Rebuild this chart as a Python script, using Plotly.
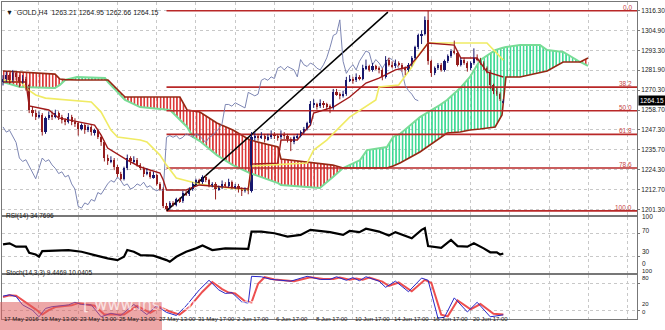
import plotly.graph_objects as go
import numpy as np

# ---------------- DATA ----------------
opens = [1275,1277,1279,1276,1280,1278,1275,1277,1273,1259,1257,1255,1256,1246,1254,1256,1255,1257,1255,1253,
         1252,1255,1252,1251,1248,1250,1247,1249,1246,1247,1243,1240,1231,1229,1230,1226,1222,1219,1225,1231,
         1229,1230,1227,1225,1222,1223,1220,1221,1216,1213,1203,1202,1205,1204,1207,1206,1211,1210,1213,1216,
         1218,1217,1220,1218,1215,1216,1213,1214,1216,1215,1217,1214,1215,1213,1212,1213,1212,1243,1244,1243,
         1244,1242,1243,1245,1244,1243,1245,1244,1242,1240,1243,1244,1246,1248,1251,1262,1262,1261,1263,1262,
         1261,1260,1269,1268,1267,1268,1276,1277,1276,1278,1277,1283,1284,1282,1284,1283,1282,1278,1288,1285,
         1284,1286,1285,1283,1282,1285,1289,1295,1302,1303,1311,1287,1280,1283,1285,1282,1287,1290,1293,1292,
         1285,1288,1286,1283,1286,1289,1288,1286,1283,1281,1273,1270,1268,1263.21]
highs = [1279,1281,1280,1282,1281,1279,1279,1278,1274,1261,1259,1258,1257,1255,1258,1258,1259,1258,1256,1254,
         1257,1256,1254,1252,1251,1251,1250,1250,1248,1248,1244,1241,1233,1232,1231,1227,1223,1226,1233,1232,
         1232,1231,1228,1226,1225,1224,1223,1222,1217,1214,1205,1206,1206,1208,1208,1212,1212,1214,1217,1219,
         1219,1221,1221,1219,1217,1217,1215,1218,1217,1219,1218,1216,1216,1214,1214,1214,1246,1246,1245,1246,
         1245,1245,1247,1246,1245,1247,1246,1245,1243,1244,1245,1247,1249,1252,1264,1265,1263,1265,1264,1263,
         1262,1271,1271,1269,1270,1278,1279,1278,1280,1279,1285,1288,1285,1286,1285,1284,1283,1290,1289,1287,
         1288,1287,1286,1284,1286,1290,1296,1303,1305,1313,1316.3,1288,1284,1286,1286,1288,1291,1294,1299,1293,
         1289,1289,1287,1287,1294.5,1291,1289,1287,1284,1282,1274,1272,1269,1264.95]
lows = [1273,1275,1274,1275,1276,1272,1274,1270,1257,1255,1253,1254,1244,1245,1253,1253,1254,1253,1251,1250,
        1251,1250,1249,1244,1247,1245,1246,1244,1244,1242,1238,1229,1227,1228,1224,1220,1218,1218,1224,1227,
        1228,1226,1224,1220,1221,1219,1219,1215,1212,1202,1200.4,1201,1203,1203,1205,1205,1209,1209,1212,1215,
        1216,1216,1217,1214,1214,1207,1212,1213,1214,1214,1213,1213,1211,1209,1211,1210,1211,1241,1241,1242,
        1240,1241,1242,1242,1241,1242,1242,1240,1235,1239,1242,1243,1245,1247,1250,1260,1259,1260,1260,1259,
        1257,1259,1267,1265,1266,1267,1275,1274,1275,1276,1276,1282,1281,1281,1282,1280,1276,1277,1284,1283,
        1283,1284,1281,1279,1281,1284,1288,1294,1297,1302,1285,1278,1279,1282,1281,1281,1286,1289,1291,1284,
        1284,1285,1281,1282,1285,1287,1285,1282,1280,1271,1268,1267,1264,1262.66]
closes = [1277,1279,1276,1280,1278,1275,1277,1273,1259,1257,1255,1256,1246,1254,1256,1255,1257,1255,1253,1252,
          1255,1252,1251,1248,1250,1247,1249,1246,1247,1243,1240,1231,1229,1230,1226,1222,1219,1225,1231,1229,
          1230,1227,1225,1222,1223,1220,1221,1216,1213,1203,1202,1205,1204,1207,1206,1211,1210,1213,1216,1218,
          1217,1220,1218,1215,1216,1213,1214,1216,1215,1217,1214,1215,1213,1212,1213,1212,1243,1244,1243,1244,
          1242,1243,1245,1244,1243,1245,1244,1242,1240,1243,1244,1246,1248,1251,1262,1262,1261,1263,1262,1261,
          1260,1269,1268,1267,1268,1276,1277,1276,1278,1277,1283,1284,1282,1284,1283,1282,1278,1288,1285,1284,
          1286,1285,1283,1282,1285,1289,1295,1302,1303,1311,1287,1280,1283,1285,1282,1287,1290,1293,1292,1285,
          1288,1286,1283,1286,1289,1288,1286,1283,1281,1273,1270,1268,1265,1264.15]

tenkan_x = [0,7,8,11,14,17,23,28,30,32,38,42,48,49,50,56,60,75,76,84,85,90,91,94,95,101,106,111,115,120,
            124,127,130,138,140,145,148,151,153]
tenkan_y = [1275.0,1275.0,1261.1,1260.0,1258.8,1254.2,1251.8,1250.1,1244.3,1236.8,1229.8,1225.8,1222.3,1218.3,
            1212.5,1212.5,1215.4,1213.1,1227.5,1228.0,1241.4,1241.4,1244.0,1250.1,1257.0,1260.5,1266.3,1274.4,
            1277.3,1282.0,1283.7,1290.0,1297.6,1296.4,1288.9,1288.9,1280.8,1279.1,1277.9]

kijun_x = [0,6,7,10,13,20,27,30,33,35,42,44,48,50,53,60,66,75,76,93,95,99,106,114,115,121,125,127,130,148,153]
kijun_y = [1276.2,1274.4,1271.5,1267.5,1265.7,1264.6,1263.4,1257.6,1247.2,1243.2,1241.4,1240.3,1232.7,1226.9,
           1219.4,1215.9,1214.2,1212.5,1226.4,1228.1,1235.6,1241.4,1254.7,1264.6,1272.1,1273.3,1283.7,1290.6,
           1297.6,1297.6,1287.7]

span_x = [0,5.2,15.9,17.4,19,22.6,31.2,32.1,37.3,41.9,51.1,54.1,56.3,58.1,60.2,65.4,70.3,75.5,84.1,85,96.9,
          100.9,104,109.2,111.3,117.4,119.3,121.4,127.5,133.6,135.8,139.8,142.8,145.9,150.5,152.6,153.8,158.1,
          164.2,166.4,171.3,176.5,178.9]
span_a = [1281.4,1280.8,1279.6,1276.7,1276.4,1276.2,1276.2,1276.2,1266.3,1266.3,1266.3,1266.3,1258.8,1258.2,
          1257.6,1251.3,1247.2,1241.4,1237.4,1230.4,1228.1,1226.9,1225.2,1225.2,1225.2,1225.2,1226.4,1228.1,
          1234.5,1242.6,1245.5,1246.1,1247.2,1247.8,1249.0,1255.9,1277.9,1277.9,1280.2,1281.4,1286.6,1286.6,1288.9]
span_b = [1275.0,1272.1,1271.5,1273.3,1276.2,1277.9,1277.3,1275.0,1264.6,1260.5,1258.8,1253.0,1249.0,1243.2,
          1240.8,1232.7,1226.9,1222.3,1216.5,1215.4,1213.6,1220.0,1225.2,1229.8,1235.6,1237.4,1243.2,1244.9,
          1254.7,1261.7,1264.6,1271.5,1277.9,1287.7,1293.5,1294.7,1295.3,1296.4,1296.4,1293.5,1292.4,1286.6,1284.3]

rsi_x = [0,2,4,7,8,10,11,12,20,24,28,32,35,37,38,40,42,46,50,51,53,56,59,61,64,68,75,76,79,83,87,91,94,98,
         100,104,106,109,111,115,118,120,124,125,128,129,130,131,134,137,139,142,144,147,149,151,152,153]
rsi_y = [51,53,47,47,36,33,29,39,41,38,32,26,23,29,41,38,32,31,23,20,29,38,44,49,41,44,43,74,74,71,65,68,77,74,
         73,68,75,73,79,74,67,73,65,62,77,80,48,47,45,59,48,47,53,44,37,37,33,34.77]

stk_x = [0,2,4,6,9,11,13,15,20,22,24,27,30,33,36,40,44,47,50,53,56,60,63,66,68,70,73,75,76,79,82,88,93,97,
         100,102,105,107,109,111,115,117,120,124,128,130,133,135,138,142,145,149,153]
stk_y = [52,55,51,32,20,5,24,28,32,38,33,32,5,13,8,33,10,30,15,8,30,66,88,66,58,60,39,36,97,96,90,86,97,90,
         90,96,88,94,87,96,86,72,86,62,93,88,2,4,48,16,38,5,9.45]
std_x = [0,2,4,7,10,12,14,16,21,23,25,28,31,34,37,41,45,48,51,54,57,61,64,67,69,71,74,76,78,80,83,89,94,98,
         101,103,106,108,110,112,116,118,121,125,129,131,134,136,139,143,146,150,153]
std_y = [50,54,53,38,22,10,20,27,31,36,34,30,10,10,10,30,14,27,17,10,27,62,84,68,60,58,40,38,80,95,90,86,95,91,
         91,94,89,92,89,94,85,75,83,63,89,82,10,6,42,22,34,12,10.04]

fib_levels = [0.0, 38.2, 50.0, 61.8, 78.6, 100.0]
fib_high = 1316.30
fib_low = 1200.40
fib_start = 50
trend_x = [50, 117.7]
trend_y = [1200.4, 1315.5]

price_ticks = [1316.30, 1304.90, 1293.30, 1281.90, 1270.30, 1258.70, 1247.30, 1235.70, 1224.30, 1212.70, 1201.30]
rsi_ticks = ["100", "70", "30", "0"]
stoch_ticks = ["100", "80", "20", "0"]
time_idx = [-0.3, 11, 23, 35, 47, 59, 71, 83, 95, 107, 119, 131, 143]
time_labels = ["17 May 2016", "19 May 13:00", "23 May 13:00", "25 May 13:00", "27 May 13:00", "31 May 17:00",
               "2 Jun 17:00", "6 Jun 17:00", "8 Jun 17:00", "10 Jun 17:00", "14 Jun 17:00", "16 Jun 17:00",
               "20 Jun 17:00"]
grid_idx = [11, 23, 35, 47, 59, 71, 83, 95, 107, 119, 131, 143, 155, 167, 179, 191]
header = "GOLD,H4  1263.21 1264.95 1262.66 1264.15"
last_price = 1264.15
rsi_label = "RSI(14) 34.7696"
stoch_label = "Stoch(14,3,3) 9.4469 10.0405"
chikou_shift = 26

# ---------------- GEOMETRY ----------------
W, H = 665, 330
def py(p):
    return 1 - p / H
XR = [-0.31, 193.88]
FONT = "Liberation Sans"
TXT = "#1a1a1a"

fig = go.Figure()
idx = list(range(len(closes)))

# Cloud fills (hatched)
sa = np.array(span_a); sb = np.array(span_b); top = np.maximum(sa, sb)
fig.add_trace(go.Scatter(x=span_x, y=sb, mode="lines", line=dict(width=0), hoverinfo="skip", showlegend=False))
fig.add_trace(go.Scatter(x=span_x, y=top, mode="lines", line=dict(width=0), fill="tonexty",
                         fillcolor="rgba(0,0,0,0)",
                         fillpattern=dict(shape="|", fgcolor="rgb(215,35,35)", bgcolor="rgba(255,255,255,0)",
                                          size=3.27, solidity=0.45, fillmode="replace"),
                         hoverinfo="skip", showlegend=False))
fig.add_trace(go.Scatter(x=span_x, y=sa, mode="lines", line=dict(width=0), hoverinfo="skip", showlegend=False))
fig.add_trace(go.Scatter(x=span_x, y=top, mode="lines", line=dict(width=0), fill="tonexty",
                         fillcolor="rgba(0,0,0,0)",
                         fillpattern=dict(shape="|", fgcolor="rgb(45,215,140)", bgcolor="rgba(255,255,255,0)",
                                          size=3.27, solidity=0.45, fillmode="replace"),
                         hoverinfo="skip", showlegend=False))
fig.add_trace(go.Scatter(x=span_x, y=span_b, mode="lines", line=dict(color="rgb(120,220,150)", width=2),
                         showlegend=False))
fig.add_trace(go.Scatter(x=span_x, y=span_a, mode="lines", line=dict(color="rgb(150,40,20)", width=1.6),
                         showlegend=False))

# Fibonacci lines
fr = fib_high - fib_low
for lv in fib_levels:
    p = fib_high - lv / 100 * fr
    fig.add_trace(go.Scatter(x=[fib_start, XR[1]], y=[p, p], mode="lines",
                             line=dict(color="rgb(185,40,40)", width=1.6), showlegend=False))
    fig.add_annotation(x=XR[1] - 0.8, y=p, xref="x", yref="y", text=f"{lv:.1f}", showarrow=False,
                       xanchor="right", yanchor="bottom", yshift=-2,
                       font=dict(family=FONT, size=6.5, color="rgb(200,70,70)"))

# trend line
fig.add_trace(go.Scatter(x=trend_x, y=trend_y, mode="lines", line=dict(color="black", width=1.5), showlegend=False))

# chikou
fig.add_trace(go.Scatter(x=[i - chikou_shift for i in idx[chikou_shift:]], y=closes[chikou_shift:], mode="lines",
                         line=dict(color="rgb(110,120,170)", width=0.9), showlegend=False))
# kijun / tenkan
fig.add_trace(go.Scatter(x=kijun_x, y=kijun_y, mode="lines", line=dict(color="rgb(240,235,100)", width=1.6),
                         showlegend=False))
fig.add_trace(go.Scatter(x=tenkan_x, y=tenkan_y, mode="lines", line=dict(color="rgb(160,25,25)", width=1.4),
                         showlegend=False))

# candles
bull = "rgb(25,25,110)"
bear = "rgb(150,30,30)"
cols = [bull if c >= o else bear for o, c in zip(opens, closes)]
for col in (bull, bear):
    wx, wy = [], []
    for i in idx:
        if cols[i] == col:
            wx += [i, i, None]; wy += [lows[i], highs[i], None]
    fig.add_trace(go.Scatter(x=wx, y=wy, mode="lines", line=dict(color=col, width=1), showlegend=False))
fig.add_trace(go.Bar(x=idx, y=[max(abs(c - o), 0.4) for o, c in zip(opens, closes)],
                     base=[min(o, c) for o, c in zip(opens, closes)], width=0.66,
                     marker=dict(color=cols, line=dict(width=0)), showlegend=False))

# RSI
fig.add_trace(go.Scatter(x=rsi_x, y=rsi_y, mode="lines", line=dict(color="black", width=2.2),
                         xaxis="x2", yaxis="y2", showlegend=False))
# Stoch
fig.add_trace(go.Scatter(x=std_x, y=std_y, mode="lines", line=dict(color="rgba(235,60,60,0.9)", width=2),
                         xaxis="x3", yaxis="y3", showlegend=False))
fig.add_trace(go.Scatter(x=stk_x, y=stk_y, mode="lines", line=dict(color="rgb(40,40,200)", width=1),
                         xaxis="x3", yaxis="y3", showlegend=False))

xd = [2 / W, 637 / W]
common_x = dict(range=XR, showgrid=True, gridcolor="rgb(200,200,200)", griddash="dot", gridwidth=1,
                tickvals=grid_idx, showticklabels=False, ticks="", showline=True, mirror=True,
                linecolor="#777", linewidth=1, zeroline=False, domain=xd, fixedrange=True)
common_y = dict(side="right", showgrid=True, gridcolor="rgb(200,200,200)", griddash="dot", gridwidth=1,
                showline=True, mirror=True, linecolor="#777", linewidth=1, zeroline=False,
                tickfont=dict(family=FONT, size=6.5, color=TXT), ticks="outside", ticklen=2,
                tickcolor="#777", fixedrange=True)

fig.update_layout(
    width=W, height=H, margin=dict(l=0, r=0, t=0, b=0),
    paper_bgcolor="white", plot_bgcolor="white", showlegend=False, bargap=0,
    xaxis=dict(**common_x, anchor="y"),
    xaxis2=dict(**common_x, anchor="y2", matches="x"),
    xaxis3=dict(**common_x, anchor="y3", matches="x"),
    yaxis=dict(**common_y, anchor="x", domain=[py(215), py(2)], range=[1198.0, 1321.34],
               tickvals=price_ticks, ticktext=[f"{v:.2f}" for v in price_ticks]),
    yaxis2=dict(**common_y, anchor="x2", domain=[py(273), py(217)], range=[0, 100],
                tickvals=[30, 70], showticklabels=False),
    yaxis3=dict(**common_y, anchor="x3", domain=[py(319), py(275)], range=[0, 100],
                tickvals=[20, 80], showticklabels=False),
)

# right labels for indicator windows
for txt, yp in zip(rsi_ticks, [221.5, 235.5, 256.5, 269.0]):
    fig.add_annotation(x=640 / W, y=py(yp), xref="paper", yref="paper", text=txt, showarrow=False,
                       xanchor="left", font=dict(family=FONT, size=6.5, color=TXT))
for txt, yp in zip(stoch_ticks, [276.3, 283.0, 308.5, 317.0]):
    fig.add_annotation(x=640 / W, y=py(yp), xref="paper", yref="paper", text=txt, showarrow=False,
                       xanchor="left", font=dict(family=FONT, size=6, color=TXT))

# last price box
fig.add_annotation(x=638 / W, y=last_price, xref="paper", yref="y", text=f"{last_price:.2f}", showarrow=False,
                   xanchor="left", bgcolor="black", font=dict(family=FONT, size=6.5, color="white"),
                   borderpad=1)

# header & indicator labels
fig.add_annotation(x=4 / W, y=py(7), xref="paper", yref="paper", text="▼  " + header, showarrow=False,
                   xanchor="left", font=dict(family=FONT, size=7, color=TXT))
fig.add_annotation(x=4 / W, y=py(222), xref="paper", yref="paper", text=rsi_label, showarrow=False,
                   xanchor="left", font=dict(family=FONT, size=6.5, color=TXT))
fig.add_annotation(x=4 / W, y=py(279), xref="paper", yref="paper", text=stoch_label, showarrow=False,
                   xanchor="left", font=dict(family=FONT, size=6.5, color=TXT))

# time labels
for t, lab in zip(time_idx, time_labels):
    fig.add_annotation(x=t, y=py(324), xref="x3", yref="paper", text=lab, showarrow=False, xanchor="left",
                       font=dict(family=FONT, size=6, color=TXT))

# watermark
fig.add_shape(type="rect", xref="paper", yref="paper", x0=0, x1=162 / W, y0=0, y1=py(302),
              fillcolor="rgba(222,95,95,0.55)", line=dict(width=0), layer="above")
fig.add_annotation(x=81 / W, y=py(316), xref="paper", yref="paper", text="[ www.instaforex.com ]",
                   showarrow=False, font=dict(family="DejaVu Sans", size=16, color="rgba(255,255,255,0.7)"))

fig.write_html("out.html")
